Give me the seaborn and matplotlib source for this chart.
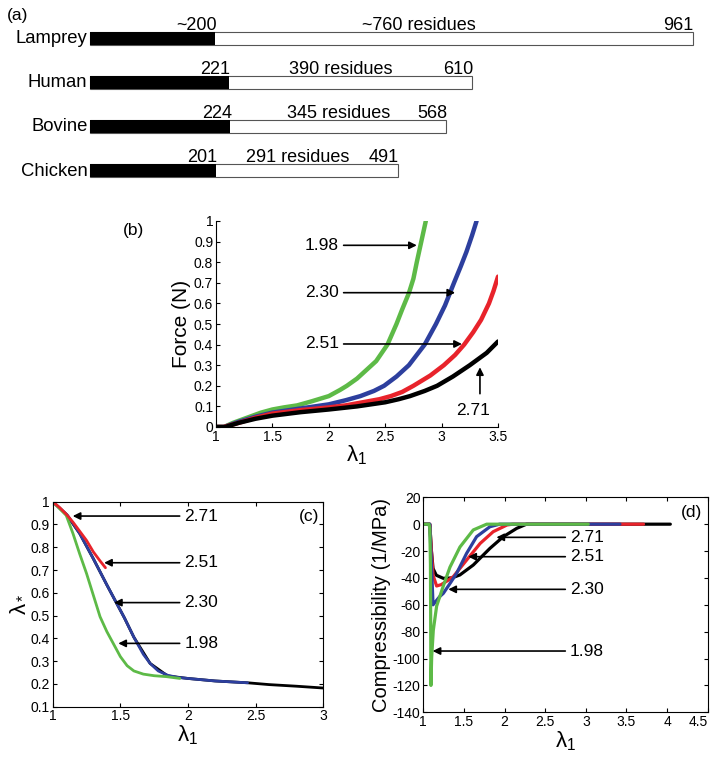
import numpy as np
import pandas as pd
import matplotlib
matplotlib.use("Agg")
import matplotlib.pyplot as plt
import seaborn as sns

# ---- (a) protein domain bars
species = ["Lamprey", "Human", "Bovine", "Chicken"]
total_len = [961, 610, 568, 491]
domain_len = [200, 221, 224, 201]
domain_lbl = ["~200", "221", "224", "201"]
total_lbl = ["961", "610", "568", "491"]
mid_lbl = ["~760 residues", "390 residues", "345 residues", "291 residues"]
mid_pos = [525, 400, 396, 332]

# ---- (b) force vs stretch
b_lam_198 = [1.0, 1.07, 1.15, 1.2, 1.3, 1.4, 1.5, 1.6, 1.72, 1.85, 2.0, 2.1, 2.16, 2.25, 2.3,
             2.36, 2.42, 2.47, 2.52, 2.56, 2.6, 2.65, 2.71, 2.75, 2.78, 2.82, 2.86]
b_f_198 = [0, 0, 0.02, 0.03, 0.05, 0.07, 0.085, 0.095, 0.105, 0.125, 0.15, 0.18, 0.2, 0.235, 0.26,
           0.29, 0.32, 0.36, 0.4, 0.45, 0.5, 0.57, 0.65, 0.72, 0.8, 0.9, 1.0]
b_lam_230 = [1.0, 1.07, 1.2, 1.35, 1.5, 1.75, 2.0, 2.15, 2.28, 2.4, 2.49, 2.6, 2.71, 2.78, 2.85,
             2.9, 2.95, 3.03, 3.11, 3.17, 3.22, 3.27, 3.31]
b_f_230 = [0, 0, 0.025, 0.05, 0.07, 0.09, 0.11, 0.13, 0.15, 0.175, 0.2, 0.245, 0.3, 0.35, 0.4,
           0.45, 0.5, 0.59, 0.7, 0.78, 0.85, 0.93, 1.0]
b_lam_251 = [1.0, 1.07, 1.2, 1.35, 1.5, 1.75, 2.0, 2.15, 2.3, 2.45, 2.55, 2.65, 2.75, 2.9, 3.02,
             3.12, 3.2, 3.28, 3.35, 3.42, 3.46, 3.5]
b_f_251 = [0, 0, 0.02, 0.045, 0.065, 0.082, 0.095, 0.105, 0.12, 0.135, 0.15, 0.17, 0.2, 0.25, 0.3,
           0.35, 0.4, 0.46, 0.52, 0.6, 0.66, 0.73]
b_lam_271 = [1.0, 1.08, 1.2, 1.35, 1.5, 1.75, 2.0, 2.25, 2.5, 2.62, 2.72, 2.85, 2.96, 3.1, 3.25,
             3.4, 3.5]
b_f_271 = [0, 0, 0.02, 0.04, 0.055, 0.072, 0.085, 0.1, 0.12, 0.135, 0.15, 0.175, 0.2, 0.245, 0.3,
           0.36, 0.415]

# ---- (c) lambda_* vs stretch
c_lam_271 = [1.0, 1.1, 1.2, 1.3, 1.4, 1.53, 1.6, 1.72, 1.85, 2.0, 2.2, 2.44, 2.6, 2.8, 3.0]
c_ls_271 = [1.0, 0.945, 0.86, 0.75, 0.635, 0.49, 0.405, 0.29, 0.235, 0.224, 0.213, 0.205, 0.197, 0.19, 0.182]
c_lam_230 = [1.0, 1.11, 1.2, 1.3, 1.4, 1.46, 1.53, 1.6, 1.67, 1.72, 1.78, 1.85, 1.92, 2.0, 2.2, 2.44]
c_ls_230 = [1.0, 0.94, 0.86, 0.75, 0.635, 0.568, 0.49, 0.405, 0.33, 0.29, 0.257, 0.238, 0.229, 0.224, 0.213, 0.205]
c_lam_198 = [1.0, 1.1, 1.15, 1.2, 1.25, 1.3, 1.35, 1.4, 1.45, 1.5, 1.55, 1.6, 1.67, 1.75, 1.84, 1.94]
c_ls_198 = [1.0, 0.94, 0.86, 0.77, 0.685, 0.59, 0.495, 0.43, 0.375, 0.32, 0.28, 0.257, 0.243, 0.236, 0.232, 0.224]
c_lam_251 = [1.0, 1.05, 1.1, 1.15, 1.2, 1.25, 1.3, 1.35, 1.39]
c_ls_251 = [1.0, 0.975, 0.945, 0.91, 0.87, 0.83, 0.78, 0.74, 0.71]

# ---- (d) compressibility vs stretch
d_lam_271 = [1.0, 1.08, 1.1, 1.12, 1.16, 1.246, 1.35, 1.45, 1.615, 1.82, 1.985, 2.15, 2.27, 4.04]
d_k_271 = [0, 0, -20, -33, -38, -40.3, -40, -37.8, -30.4, -18, -9.3, -3.1, 0, 0]
d_lam_251 = [1.0, 1.08, 1.1, 1.12, 1.164, 1.22, 1.3, 1.37, 1.533, 1.7, 1.86, 2.03, 2.1, 3.71]
d_k_251 = [0, 0, -20, -38, -46, -45, -42, -39, -26.7, -14.3, -5.6, -0.6, 0, 0]
d_lam_230 = [1.0, 1.08, 1.1, 1.12, 1.2, 1.246, 1.33, 1.41, 1.533, 1.656, 1.82, 1.94, 3.42]
d_k_230 = [0, 0, -30, -60, -54, -51.5, -44, -36.6, -21.7, -9.3, -1.9, 0, 0]
d_lam_198 = [1.0, 1.07, 1.08, 1.088, 1.094, 1.103, 1.123, 1.164, 1.246, 1.328, 1.451, 1.615, 1.78, 3.03]
d_k_198 = [0, 0, -3, -30, -120, -99, -79, -61, -46, -32, -17, -4.3, 0, 0]

GREEN = "#5dba47"
BLUE = "#2d3f9e"
RED = "#e8232b"
BLACK = "#000000"

sns.set_style("ticks")
plt.rcParams["font.family"] = ["Liberation Sans", "DejaVu Sans"]
plt.rcParams["mathtext.fontset"] = "custom"
plt.rcParams["mathtext.rm"] = "Liberation Sans"
plt.rcParams["mathtext.it"] = "Liberation Sans"
plt.rcParams["mathtext.default"] = "regular"
plt.rcParams["text.color"] = "black"
plt.rcParams["axes.labelcolor"] = "black"
plt.rcParams["xtick.color"] = "black"
plt.rcParams["ytick.color"] = "black"

W, H = 713, 761
fig = plt.figure(figsize=(W / 100, H / 100), dpi=100)

# ================= (a)
ax_a = fig.add_axes([0, 1 - 190 / H, 1, 190 / H])
sns.barplot(x=total_len, y=species, orient="h", color="white", saturation=1,
            edgecolor="#555555", linewidth=0.8, width=0.283, ax=ax_a)
sns.barplot(x=domain_len, y=species, orient="h", color="black", saturation=1,
            linewidth=0, width=0.283, ax=ax_a)
ax_a.set_xlim(-90 / 0.627, (W - 90) / 0.627)
ax_a.set_ylim(3.44, -0.868)
ax_a.axis("off")
for i in range(len(species)):
    ax_a.text(-4, i + 0.01, species[i], ha="right", va="center", fontsize=13.3)
    ax_a.text(domain_len[i] + 2, i - 0.19, domain_lbl[i], ha="right", va="baseline", fontsize=13)
    ax_a.text(total_len[i] + 2, i - 0.19, total_lbl[i], ha="right", va="baseline", fontsize=13)
    ax_a.text(mid_pos[i], i - 0.19, mid_lbl[i], ha="center", va="baseline", fontsize=13)
ax_a.text(-132, -0.506, "(a)", ha="left", va="center", fontsize=12.5)


def style_axes(ax, box):
    for s in ["left", "bottom", "top", "right"]:
        ax.spines[s].set_color("black")
        ax.spines[s].set_linewidth(0.8)
    if not box:
        ax.spines["top"].set_visible(False)
        ax.spines["right"].set_visible(False)
    ax.tick_params(direction="in", length=3, width=0.8, labelsize=10,
                   top=box, right=box, pad=2)
    ax.xaxis.set_major_formatter(matplotlib.ticker.FuncFormatter(lambda v, p: f"{v:g}"))
    ax.yaxis.set_major_formatter(matplotlib.ticker.FuncFormatter(lambda v, p: f"{v:g}"))


arrow = dict(arrowstyle="-|>", color="black", lw=1.2, mutation_scale=11, shrinkA=1, shrinkB=0)

# ================= (b)
ax_b = fig.add_axes([216 / W, 1 - 427 / H, 282 / W, 206 / H])
for lx, ly, col in [(b_lam_198, b_f_198, GREEN), (b_lam_230, b_f_230, BLUE),
                    (b_lam_251, b_f_251, RED), (b_lam_271, b_f_271, BLACK)]:
    sns.lineplot(x=lx, y=ly, color=col, lw=3.2, estimator=None, sort=False, ax=ax_b)
ax_b.set_xlim(1, 3.5)
ax_b.set_ylim(0, 1)
ax_b.set_xticks(np.arange(1, 3.51, 0.5))
ax_b.set_yticks(np.arange(0, 1.01, 0.1))
style_axes(ax_b, box=False)
ax_b.set_xlabel(r"$\lambda_1$", fontsize=16, labelpad=0)
ax_b.set_ylabel("Force (N)", fontsize=15, labelpad=2)
for txt, yy, tip in [("1.98", 0.882, 2.78), ("2.30", 0.652, 3.12), ("2.51", 0.403, 3.18)]:
    ax_b.annotate(txt, xy=(tip, yy), xytext=(2.09, yy), ha="right", va="center",
                  fontsize=12.5, arrowprops=arrow)
ax_b.text(3.277, 0.08, "2.71", ha="center", va="center", fontsize=12.5)
ax_b.annotate("", xy=(3.34, 0.29), xytext=(3.34, 0.155), arrowprops=arrow)
fig.text(133 / W, 1 - 230 / H, "(b)", ha="center", va="center", fontsize=12.5)

# ================= (c)
ax_c = fig.add_axes([52.7 / W, 1 - 706.7 / H, 270.6 / W, 205 / H])
for lx, ly, col in [(c_lam_271, c_ls_271, BLACK), (c_lam_230, c_ls_230, BLUE),
                    (c_lam_198, c_ls_198, GREEN), (c_lam_251, c_ls_251, RED)]:
    sns.lineplot(x=lx, y=ly, color=col, lw=2.0, estimator=None, sort=False, ax=ax_c)
ax_c.set_xlim(1, 3)
ax_c.set_ylim(0.1, 1)
ax_c.set_xticks(np.arange(1, 3.01, 0.5))
ax_c.set_yticks(np.arange(0.1, 1.01, 0.1))
style_axes(ax_c, box=True)
ax_c.set_xlabel(r"$\lambda_1$", fontsize=16, labelpad=0)
ax_c.set_ylabel(r"$\lambda_*$", fontsize=16, labelpad=2)
for txt, yy, tip in [("2.71", 0.937, 1.148), ("2.51", 0.732, 1.38),
                     ("2.30", 0.557, 1.453), ("1.98", 0.378, 1.485)]:
    ax_c.annotate(txt, xy=(tip, yy), xytext=(1.973, yy), ha="left", va="center",
                  fontsize=12.5, arrowprops=arrow)
ax_c.text(0.985, 0.965, "(c)", transform=ax_c.transAxes, ha="right", va="top", fontsize=12.5)

# ================= (d)
ax_d = fig.add_axes([423.3 / W, 1 - 712.3 / H, 284.4 / W, 215 / H])
for lx, ly, col in [(d_lam_271, d_k_271, BLACK), (d_lam_251, d_k_251, RED),
                    (d_lam_230, d_k_230, BLUE), (d_lam_198, d_k_198, GREEN)]:
    sns.lineplot(x=lx, y=ly, color=col, lw=2.3, estimator=None, sort=False, ax=ax_d)
ax_d.set_xlim(1, 4.5)
ax_d.set_ylim(-140, 20)
ax_d.set_xticks(np.arange(1, 4.51, 0.5))
ax_d.set_yticks(np.arange(-140, 21, 20))
style_axes(ax_d, box=True)
ax_d.set_xlabel(r"$\lambda_1$", fontsize=16, labelpad=0)
ax_d.set_ylabel("Compressibility (1/MPa)", fontsize=14.5, labelpad=1)
for txt, yy, tip in [("2.71", -9.8, 1.9), ("2.51", -24.2, 1.554),
                     ("2.30", -48.5, 1.308), ("1.98", -94.4, 1.115)]:
    ax_d.annotate(txt, xy=(tip, yy), xytext=(2.805, yy), ha="left", va="center",
                  fontsize=12.5, arrowprops=arrow)
ax_d.text(0.98, 0.965, "(d)", transform=ax_d.transAxes, ha="right", va="top", fontsize=12.5)
fig.canvas.draw()
ax_d.get_xticklabels()[-1].set_horizontalalignment("right")

fig.savefig("out.png", dpi=100)
